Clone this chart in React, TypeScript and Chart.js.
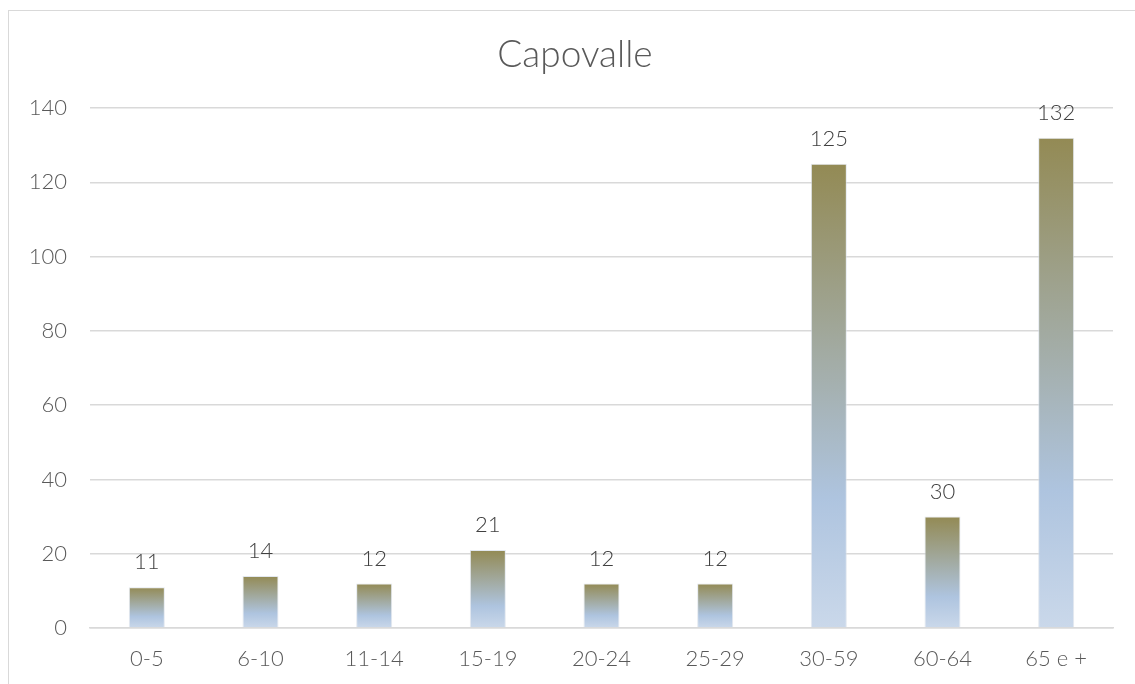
import React, { useEffect, useRef } from "react";
import { Chart, registerables } from "chart.js";

Chart.register(...registerables);

const TITLE = "Capovalle";
const CATEGORIES = ["0-5", "6-10", "11-14", "15-19", "20-24", "25-29", "30-59", "60-64", "65 e +"];
const VALUES = [11, 14, 12, 21, 12, 12, 125, 30, 132];
const Y_MIN = 0;
const Y_MAX = 140;
const Y_STEP = 20;

const FONT = "Lato, 'Open Sans', sans-serif";

const labelPlugin = {
  id: "labelsAndTitle",
  afterDatasetsDraw(chart: any) {
    const ctx = chart.ctx;
    const meta = chart.getDatasetMeta(0);
    ctx.save();
    ctx.fillStyle = "#404040";
    ctx.font = `300 22px ${FONT}`;
    ctx.textAlign = "center";
    ctx.textBaseline = "middle";
    meta.data.forEach((bar: any, i: number) => {
      ctx.fillText(String(chart.data.datasets[0].data[i]), bar.x, bar.y - 25);
    });
    ctx.font = `300 37px ${FONT}`;
    ctx.fillStyle = "#595959";
    ctx.fillText(TITLE, chart.width / 2 + 3, 44);
    ctx.restore();
  },
};

export default function App() {
  const ref = useRef<HTMLCanvasElement>(null);
  useEffect(() => {
    if (!ref.current) return;
    const chart = new Chart(ref.current, {
      type: "bar",
      data: {
        labels: CATEGORIES,
        datasets: [
          {
            data: VALUES,
            backgroundColor: (c: any) => {
              const ch = c.chart;
              if (!ch.chartArea || !ch.scales.y) return "#A9BCD4";
              const v = c.raw ?? c.parsed?.y ?? 0;
              const top = ch.scales.y.getPixelForValue(v);
              const bottom = ch.scales.y.getPixelForValue(0);
              const g = ch.ctx.createLinearGradient(0, top, 0, bottom);
              g.addColorStop(0, "#938A54");
              g.addColorStop(0.72, "#AEC4DF");
              g.addColorStop(1, "#CAD8EA");
              return g;
            },
            borderColor: "rgba(215,222,232,0.7)",
            borderWidth: 1,
            barPercentage: 0.317,
            categoryPercentage: 1,
          },
        ],
      },
      options: {
        animation: false,
        responsive: false,
        maintainAspectRatio: false,
        layout: { padding: { top: 97, right: 22, left: 0, bottom: 0 } },
        plugins: {
          legend: { display: false },
          tooltip: { enabled: false },
          title: { display: false },
        },
        scales: {
          x: {
            grid: { display: false, drawTicks: false },
            border: { display: true, color: "#d9d9d9", width: 1.5 },
            ticks: {
              color: "#595959",
              font: { family: FONT, size: 22, weight: "300" as any },
              padding: 18,
              maxRotation: 0,
            },
            afterFit: (s: any) => {
              s.height = 56;
            },
          },
          y: {
            min: Y_MIN,
            max: Y_MAX,
            grid: { color: "#d9d9d9", lineWidth: 1.5, drawTicks: false },
            border: { display: false },
            ticks: {
              stepSize: Y_STEP,
              color: "#595959",
              font: { family: FONT, size: 22, weight: "300" as any },
              padding: 23,
            },
            afterFit: (s: any) => {
              s.width = 81;
            },
          },
        },
      },
      plugins: [labelPlugin],
    });
    return () => chart.destroy();
  }, []);

  return (
    <div
      style={{
        position: "absolute",
        left: 8,
        top: 10,
        width: 1140,
        height: 690,
        border: "1px solid #d9d9d9",
        background: "#fff",
        boxSizing: "border-box",
      }}
    >
      <canvas ref={ref} width={1126} height={673} style={{ display: "block" }} />
    </div>
  );
}
